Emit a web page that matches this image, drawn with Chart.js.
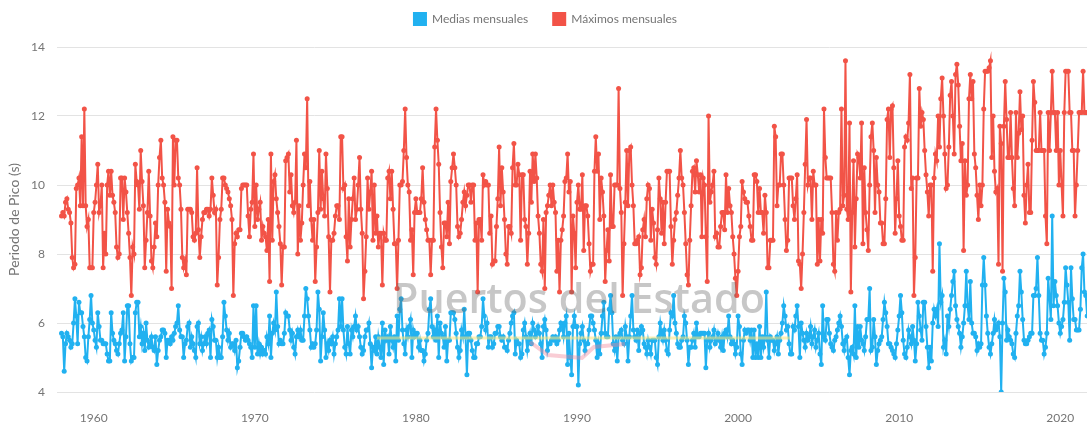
<!DOCTYPE html>
<html>
<head>
<meta charset="utf-8">
<script src="https://cdn.jsdelivr.net/npm/chart.js@4.4.1/dist/chart.umd.min.js"></script>
<style>
  html, body { margin: 0; padding: 0; background: #fff; }
  #wrap { width: 1091px; height: 423px; }
</style>
</head>
<body>
<div id="wrap"><canvas id="chart" width="1091" height="423"></canvas></div>
<script>
// Monthly series, first value = January 1958
const startYear = 1958;
const xTicks = [1960, 1970, 1980, 1990, 2000, 2010, 2020];
const yTicks = [4, 6, 8, 10, 12, 14];

// Medias mensuales (s), in chunks
const medias1958 = [5.7,5.6,4.6,5.4,5.7,5.6,5.5,5.3,5.4,6.0,6.7,6.2,
  5.4,6.6,6.3,6.3,5.9,5.6,5.0,4.9,5.6,6.1,6.8,6.0,
  5.8,5.5,5.3,6.3,5.9,5.5,5.5,5.4,5.4,5.4,5.1,4.9,
  4.9,6.3,5.7,5.5,5.4,5.2,5.1,5.4,5.7,5.8,6.3,4.9,
  5.6,6.5,6.5,5.4,4.9,5.0,5.0,6.3,6.6,6.6,5.6,5.9,
  5.4,5.7,5.2,6.0,5.5,5.3,5.4];
const medias1963 = [5.6,5.3,5.2,5.6,4.8,5.2,5.5,5.6,5.8,5.8,5.7,5.0,5.5,5.5,5.4,5.6,5.5,5.7,5.9,6.0,
  6.5,5.8,5.6,5.6,5.0,5.4,5.5,5.9,6.0,5.3,5.6,5.4,5.2,5.0,5.9,6.0,5.4,5.6,5.2,5.4,
  5.6,5.4,5.7,5.8,5.0,6.1,5.9,5.5,5.5,5.0,5.3,5.0,5.0,5.6,6.6,6.2,5.8,5.5,5.7,5.3,
  5.4,5.4,5.2,5.5,4.7,4.9,5.3,5.7,5.7,5.6,5.5];
const medias1969 = [5.6,5.5,5.4,5.3,5.0,6.5,5.3,6.5,5.1,5.4,5.1,5.3,5.1,5.2,5.1,5.6,5.4,6.2,5.0,5.7,
  6.0,5.8,6.9,5.9,5.4,5.5,5.4,5.4,5.7,6.3,6.2,6.2,5.8,5.5,5.7,5.3,5.1,5.6,5.8,5.6,
  5.8,5.5,5.5,6.2,7.0,6.7,6.2,5.8,5.3,5.4,5.3,5.4,5.8,6.9,6.4,4.9,5.6,6.3,5.8,5.0,
  5.4,5.2,5.5,5.4,5.6,5.1,5.4,5.6,5.8,6.7,5.9];
const medias1975 = [6.7,5.8,5.3,5.1,5.9,5.4,5.1,5.8,5.6,5.9,6.2,5.8,5.9,5.6,5.3,5.1,5.2,5.6,5.8,5.8,
  6.0,5.4,4.7,5.3,5.2,5.6,5.1,5.6,5.3,5.0,6.0,4.8,5.8,5.5,5.6,5.1,5.9,5.5,5.3,5.6,
  4.9,6.2,5.5,6.4,6.7,5.8,5.4,5.1,5.8,5.6,5.9,6.1,5.0,5.8,5.6,5.7,5.7,5.3,5.5,5.2,
  5.2,4.9,5.1,5.5,5.7,6.4,6.7,5.9,5.6,5.8,5.5];
const medias1981 = [6.2,5.0,6.0,5.7,5.6,5.3,5.9,4.9,5.5,5.5,6.3,6.3,6.3,6.1,5.7,5.3,5.0,5.2,5.8,5.6,
  6.4,5.6,4.5,5.7,5.7,5.5,5.2,5.0,5.0,5.4,5.4,5.6,5.6,5.9,6.7,6.2,5.8,6.0,5.3,5.6,
  5.6,5.3,5.4,5.7,5.7,5.9,5.9,5.6,5.5,5.6,5.3,5.3,5.2,5.5,5.7,6.0,6.2,6.3,5.1,5.5,
  5.4,5.4,5.0,5.1,5.8,6.0,5.6,5.2,5.5,5.7,5.4];
const medias1987 = [6.0,5.8,5.6,5.7,5.9,5.7,5.4,5.0,5.9,6.1,5.8,5.2,5.4,5.4,5.5,5.6,5.5,5.6,5.4,5.5,
  5.8,6.0,5.9,5.6,6.0,6.2,4.8,5.7,5.0,4.5,5.9,6.2,5.9,5.9,4.2,5.4,5.7,5.9,5.5,5.2,
  5.4,5.4,5.8,6.2,6.2,6.0,5.8,5.5,5.0,5.4,5.1,5.7,6.2,6.6,5.7,5.6,5.6,6.4,6.8,6.3,
  5.4,5.2,5.6,4.9,5.6,5.7,5.8,5.5,5.4,5.9,5.6];
const medias1993 = [4.9,5.6,6.2,6.8,5.8,5.6,5.5,5.8,5.2,5.7,5.9,5.8,5.4,5.3,5.1,5.5,5.3,5.1,5.5,5.5,
  5.5,5.0,4.8,5.6,6.0,5.7,5.5,5.8,5.5,5.2,5.1,5.8,6.3,6.2,6.8,6.0,5.7,5.4,5.3,5.3,
  5.5,5.6,6.2,6.0,5.5,4.8,5.3,5.3,5.5,5.7,5.3,6.0,5.6,5.6,5.7,5.7,5.7,5.7,4.7,5.5,
  5.7,5.3,5.5,5.6,5.8,5.4,5.5,5.7,5.5,5.3,5.6];
const medias1999 = [5.2,5.7,5.8,5.6,6.2,5.6,5.4,5.5,5.4,5.1,5.3,6.2,5.9,5.1,4.8,5.5,5.8,5.7,5.8,5.8,
  5.5,5.8,5.0,5.8,5.0,5.4,5.0,5.9,5.0,5.6,5.3,5.6,6.9,5.5,5.0,5.6,5.5,5.5,5.2,5.4,
  5.6,5.1,5.5,5.7,6.0,6.5,6.2,5.8,5.9,5.4,5.1,5.1,5.9,5.8,6.2,6.5,5.9,5.0,6.0,5.7,
  5.5,5.3,5.7,5.5,5.6,5.9,5.4,5.6,5.8,5.3,5.5];
const medias2005 = [5.7,5.1,4.8,6.5,5.6,5.5,6.1,6.1,5.7,5.4,5.3,5.2,5.5,5.6,5.8,6.0,6.2,5.9,5.4,5.2,
  5.5,5.6,5.0,4.5,5.2,5.3,5.1,6.5,5.0,5.9,5.3,5.9,5.5,5.4,5.2,5.6,6.1,6.1,7.0,5.2,
  5.3,6.1,5.6,4.8,5.2,5.4,5.5,5.6,6.1,6.6,6.3,5.9,5.4,5.4,5.3,5.2,5.1,5.0,5.4,5.8,
  6.2,6.8,6.3,5.5,5.1,5.0,5.3,5.8,5.6,5.4,5.9];
const medias2010 = [5.5,4.9,5.4,6.6,6.2,5.8,5.5,6.6,6.6,5.9,5.3,4.7,5.3,4.9,6.0,6.4,6.2,6.4,5.9,8.3,
  6.6,6.8,5.3,5.5,5.1,6.2,5.9,6.4,6.8,7.2,7.5,6.5,6.1,5.9,5.7,5.3,5.6,6.0,6.5,7.5,
  6.5,6.1,7.2,6.0,5.7,5.7,5.6,5.2,5.4,5.3,5.4,7.1,7.9,7.1,6.2,5.7,5.3,5.1,5.4,5.7,
  6.1,5.8,5.9,6.0,5.6,4.0,6.0,7.3,6.9,5.5,5.8];
const medias2016 = [5.6,5.5,5.4,5.1,5.0,5.7,6.2,6.5,7.5,6.9,6.1,5.5,5.4,5.4,5.5,5.6,5.7,5.7,6.8,6.8,
  7.0,7.9,6.8,5.7,5.5,5.5,5.1,5.3,5.7,7.3,6.7,6.1,9.1,6.5,7.2,6.8,6.5,6.0,5.7,5.9,
  6.1,6.6,7.6,7.1,6.6,5.5,7.6,6.7,6.1,6.1,5.8,5.8,5.8,6.4,7.6,8.0,6.9,6.8,6.2,6.0,
  5.7,5.6,5.4,5.7];

// Máximos mensuales (s)
const maximos1958 = [9.1,9.2,9.1,9.5,9.6,9.3,9.2,8.9,7.9,7.6,7.7,9.9,
  10.0,10.2,9.4,11.4,9.4,12.2,9.4,8.8,9.0,7.6,7.6,7.6,
  9.2,9.5,10.0,10.6,9.2,9.4,10.0,7.6,8.6,8.0,10.0,10.4,
  9.7,10.4,9.7,9.5,9.2,8.2,7.9,8.0,10.2,10.2,9.0,10.2,
  9.8,9.2,8.6,7.9,6.8,8.2,8.0,10.6,10.1,10.0,9.3,11.0,
  10.1,9.4,7.6,8.4,9.2,10.4,9.1];
const maximos1963 = [7.8,7.6,8.2,8.9,8.5,10.0,10.8,11.3,10.2,10.0,9.5,7.5,9.3,8.9,8.8,7.0,11.4,10.0,11.3,11.3,
  10.2,10.0,9.3,7.9,7.6,7.8,7.4,9.3,9.3,9.3,9.2,8.5,8.4,8.6,10.5,8.7,7.9,8.5,9.0,9.2,
  9.2,9.3,9.3,9.1,9.3,10.2,9.7,9.2,9.3,7.1,7.9,9.0,9.3,10.2,10.2,10.0,9.9,9.8,9.6,9.4,
  9.0,6.8,8.3,8.6,8.5,8.7,8.7,9.9,10.0,10.0,10.0];
const maximos1969 = [10.0,9.1,8.5,9.3,9.5,10.9,8.8,10.0,9.0,9.3,9.5,8.4,8.8,8.6,8.5,8.1,9.0,7.2,10.9,8.4,
  10.1,10.3,9.6,9.2,8.8,8.3,7.1,8.2,8.2,10.7,10.8,10.9,9.8,10.3,9.4,9.2,9.5,11.3,8.0,9.4,
  8.4,8.9,10.0,10.9,10.5,12.5,9.4,10.1,9.0,8.4,9.0,7.2,8.2,9.2,11.0,9.3,10.4,9.6,9.1,10.9,
  9.9,8.5,6.9,8.4,8.4,8.6,9.1,9.4,9.4,9.0,11.4];
const maximos1975 = [11.4,9.9,10.0,8.5,7.8,9.6,8.2,9.0,9.6,10.2,9.0,9.3,10.0,10.8,9.3,8.6,6.7,7.5,8.5,10.2,
  9.3,9.8,10.4,8.4,10.0,8.6,9.1,8.2,8.6,8.6,7.1,8.6,8.4,8.4,10.2,10.4,9.6,10.4,9.3,8.3,
  8.3,7.0,8.4,10.0,10.0,10.1,11.0,12.2,10.8,10.0,9.8,8.4,8.7,7.4,9.2,9.6,9.2,9.2,9.2,9.6,
  10.5,9.5,9.0,8.7,8.4,8.4,7.4,8.4,8.4,11.1,12.2];
const maximos1981 = [11.3,10.6,9.2,8.2,7.6,8.9,8.9,8.5,9.5,8.3,10.1,10.5,10.9,10.5,10.0,8.8,8.5,8.6,9.0,9.5,
  9.8,9.4,9.7,10.0,10.0,9.5,10.0,10.0,8.4,8.9,6.9,9.0,9.0,8.4,10.3,10.0,10.1,10.0,10.0,8.6,
  9.1,7.7,7.8,7.8,8.8,9.6,11.1,9.4,10.5,9.8,9.0,8.0,7.7,8.8,8.8,8.6,10.5,11.2,10.0,10.0,
  10.6,10.3,8.4,10.3,10.3,9.0,8.8,7.7,8.6,10.4,9.5];
const maximos1987 = [10.9,10.1,10.9,10.2,9.1,8.6,7.7,7.5,9.0,7.0,9.2,9.4,9.7,10.0,9.4,10.0,9.5,9.2,7.5,8.4,
  6.9,8.4,8.7,9.1,10.1,10.2,10.9,9.8,10.1,6.9,9.1,8.6,7.6,9.5,10.0,9.3,9.3,10.3,8.1,9.4,
  9.4,9.1,8.3,7.5,7.7,7.7,10.4,11.4,10.4,10.9,9.0,10.2,9.8,9.1,7.2,8.1,8.7,7.8,10.3,8.8,
  8.8,10.0,10.0,10.0,12.8,9.9,9.2,6.8,8.3,9.5,11.0];
const maximos1993 = [9.4,11.0,11.1,10.0,9.4,8.3,8.3,8.4,8.5,7.4,7.6,8.7,9.0,8.5,9.6,10.0,9.9,8.4,9.3,8.9,
  7.9,7.7,8.7,10.2,9.6,8.6,9.5,8.3,9.5,10.4,10.4,10.4,8.8,7.7,8.4,9.0,9.2,9.7,10.2,11.0,
  10.2,10.0,9.2,8.3,7.4,7.1,8.4,9.4,10.4,10.5,9.8,10.7,10.3,9.8,10.3,8.5,10.2,10.0,8.5,7.2,
  12.0,9.5,9.8,10.0,10.4,8.5,8.6,8.2,8.2,8.8,9.2];
const maximos1999 = [9.2,8.7,10.3,9.2,9.9,9.4,9.2,8.5,8.0,7.3,6.8,7.5,8.5,8.8,10.1,9.8,9.6,9.5,9.5,9.1,
  8.8,8.4,8.4,10.3,10.3,10.1,9.2,9.9,9.2,9.2,8.6,9.7,9.2,7.6,7.6,8.4,8.4,8.4,11.7,11.4,
  9.4,10.0,10.0,10.9,10.9,10.0,9.0,8.1,8.4,10.2,10.2,10.2,9.4,9.0,9.6,10.3,7.8,7.7,7.0,8.0,
  9.2,10.6,11.9,10.0,10.2,10.2,9.0,10.4,10.0,10.0,7.7];
const maximos2005 = [9.0,7.8,9.0,8.6,12.2,10.8,10.2,10.2,10.2,10.2,9.2,7.7,7.5,9.2,8.4,9.2,9.3,12.2,9.4,9.7,
  13.6,9.3,9.0,11.8,6.9,9.2,10.7,8.2,9.6,10.9,10.8,10.2,11.8,8.3,10.5,9.2,8.7,8.1,10.0,11.4,
  11.8,11.0,9.2,10.8,10.0,9.8,8.9,8.9,8.3,8.3,9.6,11.9,12.2,10.8,12.2,12.3,10.5,8.6,9.6,10.7,
  9.1,8.8,8.4,8.4,11.1,11.4,11.3,11.8,13.2,9.9,10.2];
const maximos2010 = [6.8,7.9,10.2,10.2,12.8,11.7,12.1,11.9,11.0,10.3,9.8,9.1,10.0,10.0,7.5,10.2,10.9,10.7,12.0,11.1,
  12.5,13.1,12.0,10.9,9.9,10.0,11.1,12.6,13.0,12.0,10.9,13.2,13.5,12.9,11.7,10.7,11.2,8.1,10.7,9.7,
  10.0,12.5,13.2,12.5,13.0,10.9,10.5,9.7,9.0,10.0,9.4,10.0,12.2,13.3,13.3,13.3,13.4,13.6,10.8,12.0,
  10.4,9.8,9.9,7.7,11.7,11.2,7.5,11.7,13.0,11.9,10.8];
const maximos2016 = [10.8,12.1,10.8,9.9,9.4,12.1,10.8,11.5,12.7,11.6,12.0,9.7,8.9,10.0,10.6,9.2,9.2,11.3,13.0,12.4,
  11.0,11.0,11.0,12.1,11.0,11.0,11.0,9.1,8.3,12.1,11.0,12.1,13.3,12.1,12.1,11.0,12.1,10.0,11.0,10.0,
  9.1,12.1,13.3,13.3,13.3,12.1,12.1,11.0,11.0,9.1,10.0,11.0,12.1,12.1,12.1,13.3,12.1,12.1,12.1,12.1,
  12.1,11.0,9.1,10.0];

const medias = [].concat(medias1958, medias1963, medias1969, medias1975, medias1981, medias1987,
  medias1993, medias1999, medias2005, medias2010, medias2016);
const maximos = [].concat(maximos1958, maximos1963, maximos1969, maximos1975, maximos1981, maximos1987,
  maximos1993, maximos1999, maximos2005, maximos2010, maximos2016);

const toPoints = arr => arr.map((v, i) => ({ x: startYear + i / 12, y: v }));

const BLUE = 'rgb(33,177,240)';
const RED = 'rgb(242,83,71)';
const GREY = '#757575';
Chart.defaults.font.family = 'Lato, "Open Sans", sans-serif';
Chart.defaults.font.size = 12;
Chart.defaults.color = GREY;

// watermark drawn over the series, like the original site logo
const watermark = {
  id: 'watermark',
  afterDatasetsDraw(chart) {
    const ctx = chart.ctx;
    ctx.save();
    ctx.strokeStyle = 'rgba(250,228,120,0.55)';
    ctx.lineWidth = 3;
    ctx.beginPath();
    ctx.moveTo(377, 338);
    ctx.lineTo(790, 338);
    ctx.stroke();

    ctx.strokeStyle = 'rgba(240,130,150,0.4)';
    ctx.lineWidth = 4;
    ctx.beginPath();
    ctx.moveTo(530, 342);
    ctx.lineTo(548, 355);
    ctx.lineTo(582, 358);
    ctx.lineTo(594, 347);
    ctx.lineTo(625, 344);
    ctx.stroke();

    let size = 42;
    const text = 'Puertos del Estado';
    ctx.font = '600 ' + size + 'px "Open Sans"';
    size = size * 372 / ctx.measureText(text).width;
    ctx.font = '600 ' + size + 'px "Open Sans"';
    ctx.fillStyle = 'rgba(100,100,100,0.36)';
    ctx.textAlign = 'left';
    ctx.textBaseline = 'alphabetic';
    ctx.fillText(text, 393, 313);
    ctx.restore();
  }
};

// fixed legend height so the plot starts where the original does
const legendHeight = {
  id: 'legendHeight',
  beforeInit(chart) {
    const fit = chart.legend.fit;
    chart.legend.fit = function () {
      fit.bind(chart.legend)();
      this.height = 47;
    };
  }
};

new Chart(document.getElementById('chart'), {
  type: 'line',
  data: {
    datasets: [
      {
        label: 'Medias mensuales',
        data: toPoints(medias),
        borderColor: BLUE,
        backgroundColor: BLUE,
        borderWidth: 2,
        pointRadius: 2.5,
        pointBorderWidth: 0,
        tension: 0
      },
      {
        label: 'Máximos mensuales',
        data: toPoints(maximos),
        borderColor: RED,
        backgroundColor: RED,
        borderWidth: 2,
        pointRadius: 2.5,
        pointBorderWidth: 0,
        tension: 0
      }
    ]
  },
  options: {
    responsive: false,
    animation: false,
    devicePixelRatio: 1,
    layout: { padding: 0 },
    plugins: {
      legend: {
        position: 'top',
        labels: {
          boxWidth: 12, boxHeight: 12, padding: 13, color: GREY,
          generateLabels(chart) {
            const items = Chart.defaults.plugins.legend.labels.generateLabels(chart);
            // a little extra room between the two entries
            items[0].text = items[0].text + '\u2002\u2002';
            return items;
          }
        }
      },
      tooltip: { enabled: false }
    },
    scales: {
      x: {
        type: 'linear',
        min: 1957.72,
        max: 2021.66,
        grid: { display: false },
        border: { display: false },
        ticks: { padding: 11, color: GREY, callback: v => String(v) },
        afterBuildTicks(scale) { scale.ticks = xTicks.map(v => ({ value: v })); },
        afterFit(scale) { scale.height = 31; }
      },
      y: {
        min: 4,
        max: 14,
        grid: { color: '#e3e3e3', lineWidth: 1, drawTicks: false },
        border: { display: false },
        ticks: { padding: 12, color: GREY },
        afterBuildTicks(scale) { scale.ticks = yTicks.map(v => ({ value: v })); },
        title: { display: true, text: 'Periodo de Pico (s)', font: { size: 14 }, color: GREY, padding: { top: 6, bottom: 4 } },
        afterFit(scale) { scale.width = 57; }
      }
    }
  },
  plugins: [legendHeight, watermark]
});
</script>
</body>
</html>
